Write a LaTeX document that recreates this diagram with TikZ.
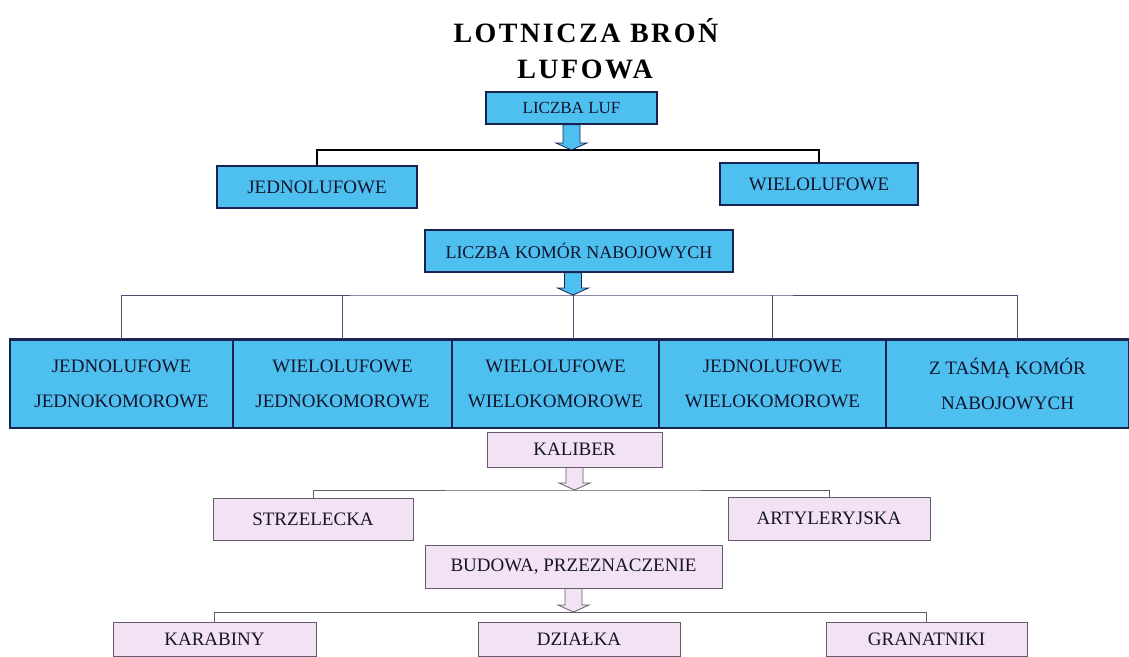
\documentclass[tikz,border=0pt]{standalone}
\usepackage{fontspec}
\setmainfont{Liberation Serif}
\usepackage{tikz}
\usetikzlibrary{calc}

\definecolor{skyfill}{RGB}{77,192,240}
\definecolor{navyline}{RGB}{25,35,80}
\definecolor{pinkfill}{RGB}{243,226,243}
\definecolor{pinkline}{RGB}{100,92,108}
\definecolor{inktext}{RGB}{20,20,45}

\newcommand{\bigarrow}[3]{%
    \draw[#3] ($(#2 |- #1.south)+(-8.5,0)$) -- ($(#2)+(-8.5,-7)$) -- ($(#2)+(-15.5,-7)$) -- (#2)
        -- ($(#2)+(15.5,-7)$) -- ($(#2)+(8.5,-7)$) -- ($(#2 |- #1.south)+(8.5,0)$) -- cycle;}

\begin{document}
\begin{tikzpicture}[x=1pt, y=-1pt,
    bluebox/.style={draw=navyline, line width=1.2pt, fill=skyfill, text=inktext, inner sep=0pt, font=\fontsize{19}{22}\selectfont},
    cell/.style={bluebox, minimum height=88, align=center, font=\fontsize{19}{34.5}\selectfont},
    pinkbox/.style={draw=pinkline, line width=1pt, fill=pinkfill, text=inktext, inner sep=0pt, font=\fontsize{19}{22}\selectfont},
    bus/.style={draw=navyline!80, line width=0.8pt},
    bluearrow/.style={draw=navyline, fill=skyfill, line width=0.8pt},
    pinkarrow/.style={draw=pinkline, fill=pinkfill, line width=0.8pt}]

    \useasboundingbox (0,0) rectangle (1129,656);
    \clip (0,0) rectangle (1129,656);
    \fill[white] (0,0) rectangle (1129,656);

    \node[anchor=base, font=\fontsize{28}{34}\selectfont\bfseries\addfontfeature{LetterSpace=9}] (title1) at (586,42) {LOTNICZA BROŃ};
    \node[anchor=base, font=\fontsize{28}{34}\selectfont\bfseries\addfontfeature{LetterSpace=9}] (title2) at (585,78) {LUFOWA};

    \node[bluebox, minimum width=171, minimum height=32, font=\fontsize{17}{20}\selectfont] (lufy) at (571.5,108) {LICZBA LUF};
    \node[bluebox, minimum width=200, minimum height=42] (jedn) at (317,187) {JEDNOLUFOWE};
    \node[bluebox, minimum width=198, minimum height=42] (wiel) at (819,184) {WIELOLUFOWE};
    \node[bluebox, minimum width=308, minimum height=42, font=\fontsize{18}{22}\selectfont] (komory) at (579,251) {LICZBA KOMÓR NABOJOWYCH};

    \node[cell, minimum width=223] (c1) at (121.5,384) {JEDNOLUFOWE\\JEDNOKOMOROWE};
    \node[cell, minimum width=219] (c2) at (342.5,384) {WIELOLUFOWE\\JEDNOKOMOROWE};
    \node[cell, minimum width=207] (c3) at (555.5,384) {WIELOLUFOWE\\WIELOKOMOROWE};
    \node[cell, minimum width=227] (c4) at (772.5,384) {JEDNOLUFOWE\\WIELOKOMOROWE};
    \node[cell, minimum width=243] (c5) at (1007.5,384) {Z TAŚMĄ KOMÓR\\NABOJOWYCH};
    \draw[navyline, line width=2.4pt] (c1.north west) -- (c5.north east);

    \coordinate (s1) at (571.5,150);
    \coordinate (s2) at (573,295);
    \coordinate (s3) at (574.5,490);
    \coordinate (s4) at (573.5,612);

    \draw[bus, black, line width=1.2pt] (jedn.north) |- (s1) -| (wiel.north);
    \draw[bus] (c1.north) |- (s2) -| ([xshift=10]c5.north);
    \draw[bus] (c2.north) -- (c2.north |- s2);
    \draw[bus] (s2) -- (s2 |- c3.north);
    \draw[bus] (c4.north) -- (c4.north |- s2);
    \bigarrow{lufy}{s1}{bluearrow}
    \bigarrow{komory}{s2}{bluearrow}

    \node[pinkbox, minimum width=175, minimum height=35] (kaliber) at (574.5,449.5) {KALIBER};
    \node[pinkbox, minimum width=200, minimum height=42] (strz) at (313,519) {STRZELECKA};
    \node[pinkbox, minimum width=202, minimum height=43] (art) at (829,518.5) {ARTYLERYJSKA};
    \node[pinkbox, minimum width=297, minimum height=43] (budowa) at (573.5,566.5) {BUDOWA, PRZEZNACZENIE};
    \node[pinkbox, minimum width=203, minimum height=34] (karab) at (214.5,639) {KARABINY};
    \node[pinkbox, minimum width=202, minimum height=34] (dzialka) at (579,639) {DZIAŁKA};
    \node[pinkbox, minimum width=201, minimum height=34] (granat) at (926.5,639) {GRANATNIKI};

    \draw[bus, pinkline] (strz.north) |- (s3) -| (art.north);
    \draw[bus, pinkline] (karab.north) |- (s4) -| (granat.north);
    \bigarrow{kaliber}{s3}{pinkarrow}
    \bigarrow{budowa}{s4}{pinkarrow}
\end{tikzpicture}
\end{document}
